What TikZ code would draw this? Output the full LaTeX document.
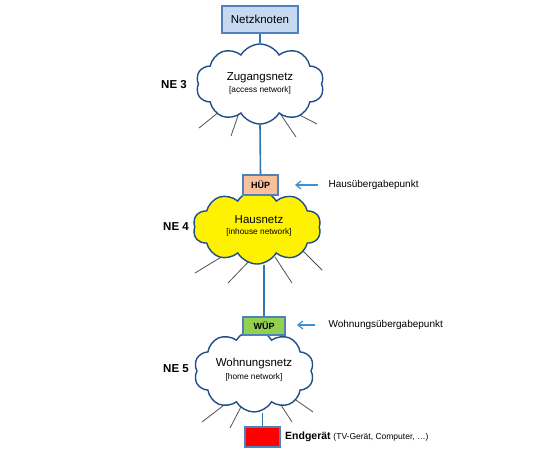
\documentclass[tikz,border=0pt]{standalone}
\usepackage{fontspec}
\setmainfont{Liberation Sans}
\usetikzlibrary{shapes.symbols,arrows.meta}
\definecolor{boxblue}{HTML}{4F81BD}
\definecolor{lineblue}{HTML}{2E75B6}
\definecolor{cloudblue}{HTML}{1F4E89}
\definecolor{nkfill}{HTML}{C6D9F1}
\definecolor{hupfill}{HTML}{F9C09A}
\definecolor{wupfill}{HTML}{92D050}
\definecolor{raygray}{HTML}{505050}
\definecolor{arrowblue}{HTML}{3F8FD2}
\tikzset{
  cloudshape/.style={cloud, cloud puffs=10, cloud puff arc=120, cloud ignores aspect,
    draw=cloudblue, line width=1.4pt, inner sep=0pt},
  boxnode/.style={draw=boxblue, line width=1.3pt, inner sep=0pt},
  conn/.style={draw=lineblue, line width=1.6pt},
  ray/.style={draw=raygray, line width=0.8pt},
  pointer/.style={draw=arrowblue, line width=1.2pt, -{Straight Barb[length=5pt,width=8pt]}},
  nelabel/.style={font=\bfseries\fontsize{11.5}{13}\selectfont},
  maintext/.style={font=\fontsize{11.5}{13}\selectfont},
  subtext/.style={font=\fontsize{8.3}{10}\selectfont},
  sidetext/.style={font=\fontsize{10}{12}\selectfont, anchor=west}
}
\begin{document}
\begin{tikzpicture}[x=1pt,y=-1pt]
\useasboundingbox (0,0) rectangle (540,450);
% rays (drawn first, clouds cover their inner ends)
\coordinate (r1a) at (225,107); \coordinate (r1b) at (199,128);
\coordinate (r2a) at (240,110); \coordinate (r2b) at (231,136);
\coordinate (r3a) at (277,109); \coordinate (r3b) at (296,137);
\coordinate (r4a) at (290,110); \coordinate (r4b) at (317,124);
\draw[ray] (r1a) -- (r1b); \draw[ray] (r2a) -- (r2b);
\draw[ray] (r3a) -- (r3b); \draw[ray] (r4a) -- (r4b);
\coordinate (q1a) at (228,253); \coordinate (q1b) at (195,273);
\coordinate (q2a) at (253,257); \coordinate (q2b) at (228,283);
\coordinate (q3a) at (275,257); \coordinate (q3b) at (292,283);
\coordinate (q4a) at (300,248); \coordinate (q4b) at (322,270);
\draw[ray] (q1a) -- (q1b); \draw[ray] (q2a) -- (q2b);
\draw[ray] (q3a) -- (q3b); \draw[ray] (q4a) -- (q4b);
\coordinate (p1a) at (228,402); \coordinate (p1b) at (202,422);
\coordinate (p2a) at (243,403); \coordinate (p2b) at (230,428);
\coordinate (p3a) at (277,399); \coordinate (p3b) at (292,422);
\coordinate (p4a) at (293,398); \coordinate (p4b) at (313,412);
\draw[ray] (p1a) -- (p1b); \draw[ray] (p2a) -- (p2b);
\draw[ray] (p3a) -- (p3b); \draw[ray] (p4a) -- (p4b);
% clouds
\node[cloudshape, fill=white, minimum width=128pt, minimum height=80pt] (c1) at (260,84) {};
\node[cloudshape, fill=yellow, minimum width=128pt, minimum height=74pt] (c2) at (257,227) {};
\node[cloudshape, fill=white, minimum width=120pt, minimum height=82pt] (c3) at (254,371) {};
% boxes
\node[boxnode, fill=nkfill, minimum width=76pt, minimum height=27pt, font=\fontsize{11.5}{13}\selectfont] (nk) at (260,19.5) {Netzknoten};
\node[boxnode, fill=red, minimum width=35pt, minimum height=20pt] (eg) at (262.5,437) {};
% connectors
\draw[conn] (nk.south) -- (c1.north);
\draw[conn] (c1.south) -- (260.5,175) coordinate (hupTop);
\draw[conn] (c2.south -| 264,0) -- (264,317) coordinate (wupTop);
\draw[conn] (c3.south -| eg.north) -- (eg.north);
\node[boxnode, fill=hupfill, minimum width=35pt, minimum height=20pt, font=\bfseries\fontsize{9}{11}\selectfont] (hup) at (260.5,185) {HÜP};
\node[boxnode, fill=wupfill, minimum width=42pt, minimum height=18pt, font=\bfseries\fontsize{9}{11}\selectfont] (wup) at (264,326) {WÜP};
% cloud texts
\node[maintext] (t1) at (260,78) {Zugangsnetz};
\node[subtext] (s1) at (260,90) {[access network]};
\node[maintext] (t2) at (259,220) {Hausnetz};
\node[subtext] (s2) at (259,232) {[inhouse network]};
\node[maintext] (t3) at (254,364) {Wohnungsnetz};
\node[subtext] (s3) at (254,377) {[home network]};
% NE labels
\node[nelabel] (ne3) at (174,85) {NE 3};
\node[nelabel] (ne4) at (176,227) {NE 4};
\node[nelabel] (ne5) at (176,369) {NE 5};
% side labels
\node[sidetext] (hl) at (325,185) {Hausübergabepunkt};
\node[sidetext] (wl) at (325,325) {Wohnungsübergabepunkt};
\draw[pointer] (hl.west) ++(-7,0) coordinate (ha) -- (295,185) coordinate (hb);
\draw[pointer] (wl.west) ++(-10,0) coordinate (wa) -- (297,325) coordinate (wb);
\node[anchor=west, inner sep=0pt] (egl) at (285,437) {{\bfseries\fontsize{10.5}{12}\selectfont Endgerät} {\fontsize{8.5}{10}\selectfont(TV-Gerät, Computer, …)}};
\end{tikzpicture}
\end{document}
